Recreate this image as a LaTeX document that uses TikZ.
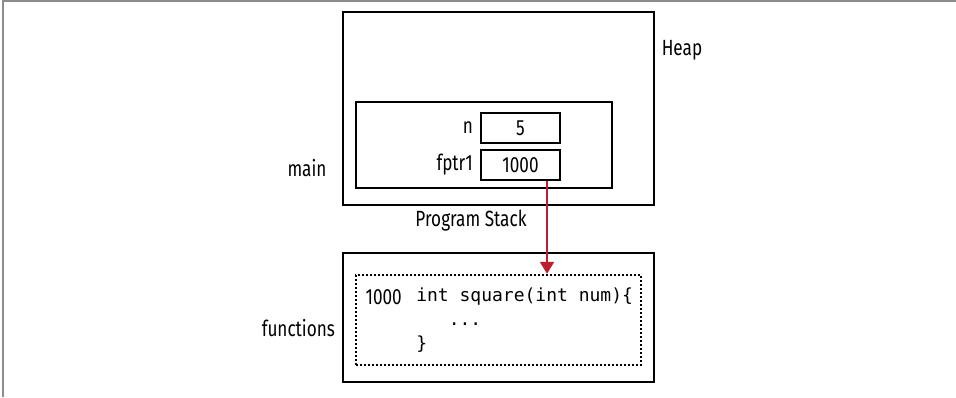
\documentclass[tikz,border=0pt]{standalone}
\usepackage{fontspec}
\setmainfont[FakeStretch=0.78]{Fira Sans}
\newfontfamily\codefont{DejaVu Sans Mono}
\usetikzlibrary{arrows.meta}
\definecolor{ptrred}{RGB}{190,30,45}
\definecolor{edgegray}{RGB}{140,140,140}
\tikzset{
  box/.style={draw, line width=1.8pt, minimum width=#1, inner sep=0pt},
  lbl/.style={font=\fontsize{16.5}{18}\selectfont, inner sep=1pt},
  code/.style={font=\codefont\fontsize{13.5}{18}\selectfont, inner sep=0pt, align=left},
  ptr/.style={ptrred, line width=1.6pt, -{Triangle[width=10.5pt,length=9pt]}}
}
\begin{document}
\begin{tikzpicture}[x=0.75pt,y=-0.75pt]
\useasboundingbox (0,0) rectangle (956,397);
\draw [edgegray, line width=1.5pt] (3,397) -- (3,1) -- (956,1);

\node [box=233.25pt, minimum height=144.75pt] (heap) at (498.5,108.5) {};
\node [box=192pt, minimum height=64.5pt] (main) at (484,145) {};
\node [box=59.25pt, minimum height=22.5pt, lbl] (nbox) at (520.5,128) {5};
\node [box=59.25pt, minimum height=22.5pt, lbl] (fbox) at (520.5,165) {1000};
\node [lbl, left=4pt] at (nbox.west) {n};
\node [lbl, left=4pt] at (fbox.west) {fptr1};
\node [lbl] at (682,50) {Heap};
\node [lbl] at (307,168) {main};
\node [lbl] at (471,221) {Program Stack};

\node [box=233.25pt, minimum height=96.75pt] (funcs) at (498.5,317.5) {};
\node [draw, line width=1.8pt, dash pattern=on 1.4pt off 1.6pt, minimum width=213.75pt, minimum height=67.5pt] (code) at (498.5,320) {};
\node [lbl, anchor=west] at (364,297) {1000};
\node [code, anchor=north west] (body) at (416,287.5) {int square(int num)\{\\\ \ \ ...\\\}};
\node [lbl, left=4pt] at (funcs.west |- 0,328) {functions};

\draw [ptr] ([xshift=19.9pt]fbox.south) -- ([xshift=19.9pt]fbox.south |- code.north);
\end{tikzpicture}
\end{document}
